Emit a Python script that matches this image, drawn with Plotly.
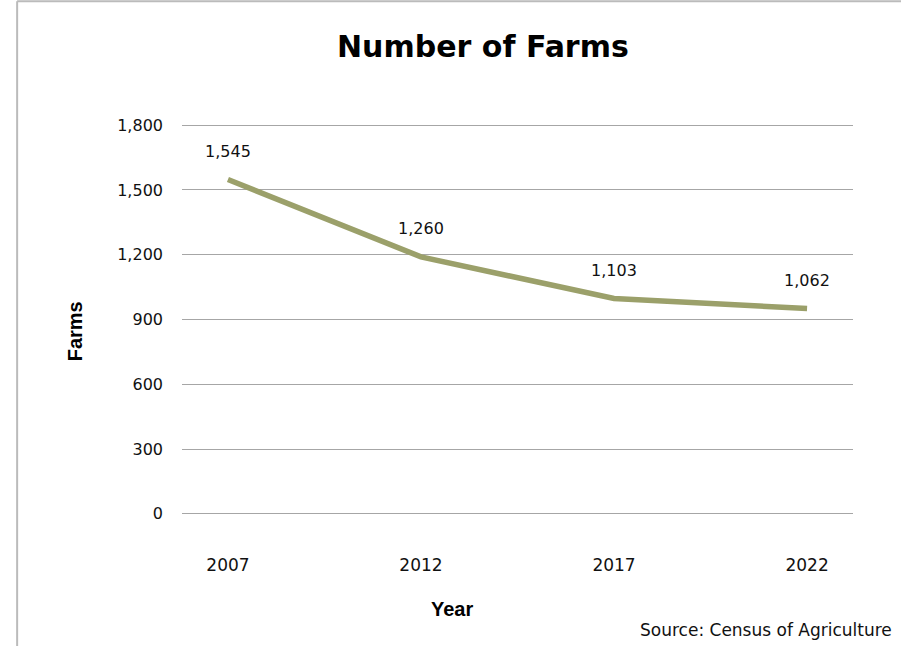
import plotly.graph_objects as go

years = [2007, 2012, 2017, 2022]
line_values = [1548, 1190, 997, 951]
label_text = ["1,545", "1,260", "1,103", "1,062"]
y_ticks = [0, 300, 600, 900, 1200, 1500, 1800]
y_tick_text = ["0", "300", "600", "900", "1,200", "1,500", "1,800"]

LINE_COLOR = "#9BA06A"
FONT = "DejaVu Sans"
BOLD = "Liberation Sans"

fig = go.Figure()
fig.add_trace(go.Scatter(
    x=years, y=line_values, mode="lines",
    line=dict(color=LINE_COLOR, width=5.5),
    hoverinfo="skip", showlegend=False,
))

for x, y, t in zip(years, line_values, label_text):
    fig.add_annotation(x=x, y=y, text=t, showarrow=False, yshift=28,
                       font=dict(family=FONT, size=16, color="#111111"))

fig.add_annotation(xref="paper", yref="paper", x=0.5, xshift=-35, y=1,
                   yanchor="middle", yshift=77,
                   text="<b>Number of Farms</b>", showarrow=False,
                   font=dict(family=FONT, size=30, color="#000000"))
fig.add_annotation(xref="paper", yref="paper", x=0.403, y=0, yanchor="middle",
                   yshift=-93,
                   text="<b>Year</b>", showarrow=False,
                   font=dict(family=BOLD, size=20, color="#000000"))
fig.add_annotation(xref="paper", yref="paper", x=0, xanchor="center",
                   xshift=-107, y=0.47,
                   text="<b>Farms</b>", showarrow=False, textangle=-90,
                   font=dict(family=BOLD, size=20, color="#000000"))
fig.add_annotation(xref="paper", yref="paper", x=1, xshift=41, xanchor="right",
                   y=0, yanchor="middle", yshift=-114,
                   text="Source: Census of Agriculture", showarrow=False,
                   font=dict(family=FONT, size=17, color="#111111"))

# outer border of the chart frame (top and left edges visible)
fig.add_shape(type="line", xref="paper", yref="paper",
              x0=-0.2457, x1=1.2, y0=1.31, y1=1.31,
              line=dict(color="#BBBBBB", width=2))
fig.add_shape(type="line", xref="paper", yref="paper",
              x0=-0.2457, x1=-0.2457, y0=-0.5, y1=1.31,
              line=dict(color="#BBBBBB", width=2))

fig.update_layout(
    width=901, height=646,
    margin=dict(l=182, r=48, t=122.5, b=129.8),
    paper_bgcolor="white", plot_bgcolor="white",
    font=dict(family=FONT, size=16, color="#111111"),
    xaxis=dict(range=[2005.81, 2023.19], tickvals=years,
               ticktext=[str(y) for y in years], showgrid=False,
               zeroline=False, showline=False, ticks="", ticklen=0,
               ticklabelstandoff=37,
               tickfont=dict(family=FONT, size=17, color="#111111")),
    yaxis=dict(range=[-10, 1810], tickvals=y_ticks, ticktext=y_tick_text,
               showgrid=True, gridcolor="#A6A6A6", gridwidth=1.3,
               zeroline=False, showline=False, ticks="",
               ticklabelstandoff=18,
               tickfont=dict(family=FONT, size=16, color="#111111")),
)

fig.write_html("out.html")
